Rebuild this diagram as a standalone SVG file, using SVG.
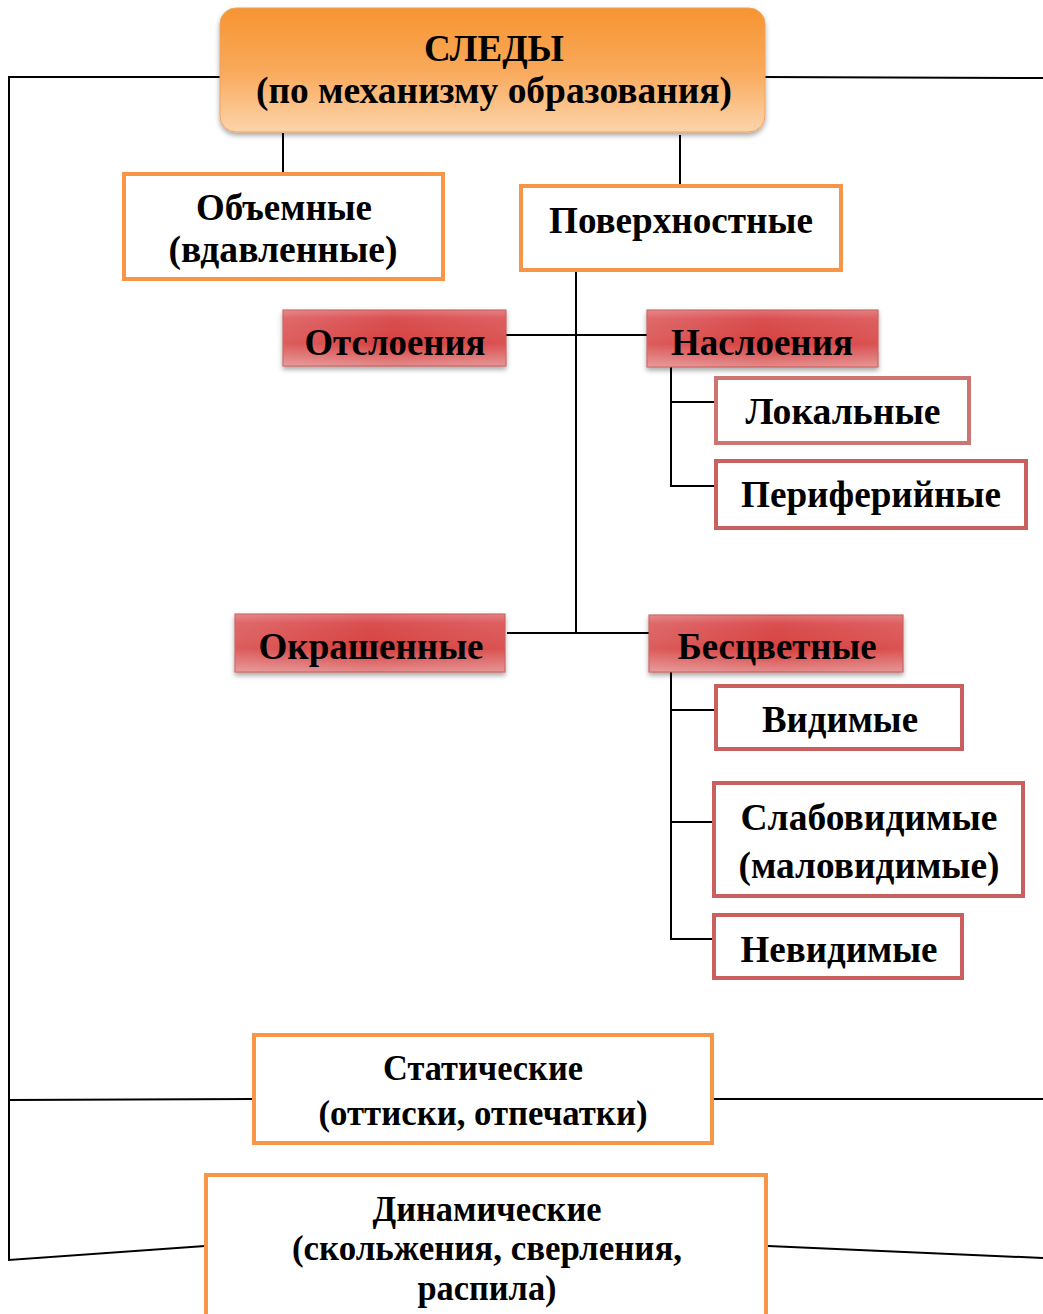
<svg xmlns="http://www.w3.org/2000/svg" width="1043" height="1314" viewBox="0 0 1043 1314">
<defs>
<linearGradient id="og" x1="0" y1="0" x2="0" y2="1">
<stop offset="0" stop-color="#f79431"/>
<stop offset="0.5" stop-color="#f9a95a"/>
<stop offset="1" stop-color="#fcd4ab"/>
</linearGradient>
<linearGradient id="rg" x1="0" y1="0" x2="0" y2="1">
<stop offset="0" stop-color="#e27476"/>
<stop offset="0.15" stop-color="#da4f51"/>
<stop offset="0.6" stop-color="#d6403f"/>
<stop offset="1" stop-color="#e48a8b"/>
</linearGradient>
<linearGradient id="rh" x1="0" y1="0" x2="1" y2="0">
<stop offset="0" stop-color="#ffffff" stop-opacity="0.15"/>
<stop offset="0.5" stop-color="#ffffff" stop-opacity="0"/>
<stop offset="1" stop-color="#ffffff" stop-opacity="0.1"/>
</linearGradient>
<filter id="sh" x="-10%" y="-20%" width="120%" height="150%">
<feDropShadow dx="0" dy="3" stdDeviation="2.5" flood-color="#000" flood-opacity="0.35"/>
</filter>
</defs>
<style>
text{font-family:"Liberation Serif","Times New Roman",serif;font-weight:bold;fill:#000;text-anchor:middle}
.t36{font-size:38px}
.t34{font-size:35px}
.ob{fill:#fff;stroke:#f79646;stroke-width:4}
.rb{fill:#fff;stroke:#c9605d;stroke-width:4}
.rl{fill:#fff;stroke:#cd7572;stroke-width:4}
.red{fill:url(#rg);stroke:#c0504d;stroke-width:1;filter:url(#sh)}
.ln{fill:none;stroke:#000;stroke-width:2}
</style>
<g id="connectors">
<polyline class="ln" points="220,77 9,77 9,1260 205,1246"/>
<line class="ln" x1="9" y1="1100" x2="253" y2="1099"/>
<line class="ln" x1="740" y1="77" x2="1043" y2="78"/>
<line class="ln" x1="713" y1="1099" x2="1043" y2="1099"/>
<line class="ln" x1="768" y1="1246" x2="1043" y2="1258"/>
<line class="ln" x1="283" y1="133" x2="283" y2="180"/>
<line class="ln" x1="680" y1="135" x2="680" y2="184"/>
<line class="ln" x1="576" y1="270" x2="576" y2="633"/>
<line class="ln" x1="506" y1="335" x2="647" y2="335"/>
<line class="ln" x1="507" y1="633" x2="649" y2="633"/>
<polyline class="ln" points="671,367 671,486 716,486"/>
<line class="ln" x1="671" y1="402" x2="716" y2="402"/>
<polyline class="ln" points="671,672 671,939 714,939"/>
<line class="ln" x1="671" y1="710" x2="716" y2="710"/>
<line class="ln" x1="671" y1="822" x2="714" y2="822"/>
</g>
<g id="root">
<rect x="220" y="8" width="545" height="124" rx="16" fill="url(#og)" stroke="#f0a060" stroke-width="1" filter="url(#sh)"/>
<text class="t36" x="494" y="61" textLength="140" lengthAdjust="spacingAndGlyphs">СЛЕДЫ</text>
<text class="t36" x="494" y="103" textLength="476" lengthAdjust="spacingAndGlyphs">(по механизму образования)</text>
</g>
<g id="obemnye">
<rect class="ob" x="124" y="174" width="319" height="105"/>
<text class="t36" x="284" y="220" textLength="176" lengthAdjust="spacingAndGlyphs">Объемные</text>
<text class="t36" x="283" y="262" textLength="229" lengthAdjust="spacingAndGlyphs">(вдавленные)</text>
</g>
<g id="poverhnostnye">
<rect class="ob" x="521" y="186" width="320" height="84"/>
<text class="t36" x="681" y="233" textLength="264" lengthAdjust="spacingAndGlyphs">Поверхностные</text>
</g>
<g id="otsloeniya">
<rect class="red" x="283" y="310" width="223" height="56"/>
<rect x="283" y="310" width="223" height="56" fill="url(#rh)"/>
<text class="t36" x="395" y="355" textLength="181" lengthAdjust="spacingAndGlyphs">Отслоения</text>
</g>
<g id="nasloeniya">
<rect class="red" x="647" y="310" width="231" height="57"/>
<rect x="647" y="310" width="231" height="57" fill="url(#rh)"/>
<text class="t36" x="762" y="355" textLength="182" lengthAdjust="spacingAndGlyphs">Наслоения</text>
</g>
<g id="lokalnye">
<rect class="rl" x="716" y="378" width="253" height="65"/>
<text class="t36" x="843" y="424" textLength="195" lengthAdjust="spacingAndGlyphs">Локальные</text>
</g>
<g id="perifer">
<rect class="rb" x="716" y="461" width="310" height="67"/>
<text class="t36" x="871" y="507" textLength="260" lengthAdjust="spacingAndGlyphs">Периферийные</text>
</g>
<g id="okrashennye">
<rect class="red" x="235" y="614" width="270" height="58"/>
<rect x="235" y="614" width="270" height="58" fill="url(#rh)"/>
<text class="t36" x="371" y="659" textLength="225" lengthAdjust="spacingAndGlyphs">Окрашенные</text>
</g>
<g id="bescvetnye">
<rect class="red" x="649" y="615" width="254" height="57"/>
<rect x="649" y="615" width="254" height="57" fill="url(#rh)"/>
<text class="t36" x="777" y="659" textLength="199" lengthAdjust="spacingAndGlyphs">Бесцветные</text>
</g>
<g id="vidimye">
<rect class="rb" x="716" y="686" width="246" height="63"/>
<text class="t36" x="840" y="732" textLength="156" lengthAdjust="spacingAndGlyphs">Видимые</text>
</g>
<g id="slabovidimye">
<rect class="rb" x="714" y="783" width="309" height="113"/>
<text class="t36" x="869" y="830" textLength="257" lengthAdjust="spacingAndGlyphs">Слабовидимые</text>
<text class="t36" x="869" y="878" textLength="261" lengthAdjust="spacingAndGlyphs">(маловидимые)</text>
</g>
<g id="nevidimye">
<rect class="rb" x="714" y="915" width="248" height="63"/>
<text class="t36" x="839" y="962" textLength="197" lengthAdjust="spacingAndGlyphs">Невидимые</text>
</g>
<g id="staticheskie">
<rect class="ob" x="254" y="1035" width="458" height="108"/>
<text class="t34" x="483" y="1080" textLength="200" lengthAdjust="spacingAndGlyphs">Статические</text>
<text class="t34" x="483" y="1125" textLength="329" lengthAdjust="spacingAndGlyphs">(оттиски, отпечатки)</text>
</g>
<g id="dinamicheskie">
<rect class="ob" x="206" y="1175" width="560" height="150"/>
<text class="t34" x="487" y="1221" textLength="229" lengthAdjust="spacingAndGlyphs">Динамические</text>
<text class="t34" x="487" y="1260" textLength="390" lengthAdjust="spacingAndGlyphs">(скольжения, сверления,</text>
<text class="t34" x="487" y="1300" textLength="139" lengthAdjust="spacingAndGlyphs">распила)</text>
</g>
</svg>
